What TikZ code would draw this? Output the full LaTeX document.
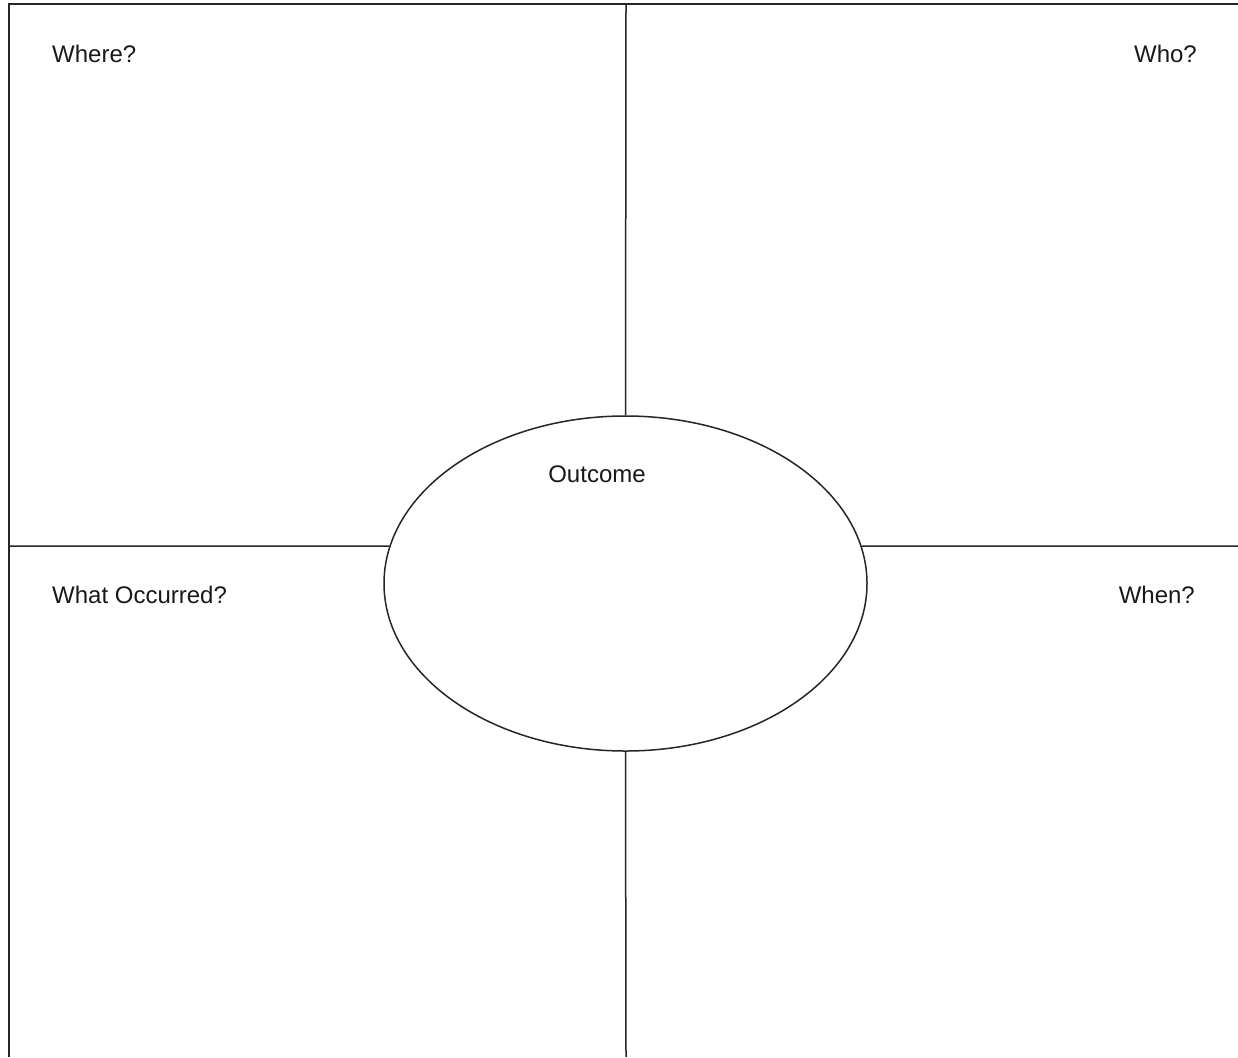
\documentclass[tikz,border=0pt]{standalone}
\usepackage{fontspec}
\setmainfont{Liberation Sans}
\usetikzlibrary{shapes.geometric}
\begin{document}
\begin{tikzpicture}[x=1pt,y=-1pt,
  rule/.style={line width=1.5pt,draw=black!85},
  lbl/.style={inner sep=0pt,font=\fontsize{24}{28}\selectfont,text=black!90}]
\useasboundingbox[fill=white] (0,0) rectangle (1238,1057);
\coordinate (tl) at (9,4);
\coordinate (tr) at (1238,4);
\coordinate (bl) at (9,1057);
\coordinate (vt) at (626,4);
\coordinate (vb) at (626,1057);
\coordinate (hl) at (9,546);
\coordinate (hr) at (1238,546);
\node[ellipse,rule,minimum width=483pt,minimum height=335pt,inner sep=0pt] (out) at (625.5,583.5) {};
\draw[rule] (bl) -- (tl) -- (tr);
\draw[rule] (vt) -- (out.north);
\draw[rule] (out.south) -- (vb);
\draw[rule] (hl) -- (out.171);
\draw[rule] (out.9) -- (hr);
\node[lbl,anchor=west] (where) at (52,54) {Where?};
\node[lbl,anchor=east] (who) at (1197,54) {Who?};
\node[lbl,anchor=west] (what) at (52,595) {What Occurred?};
\node[lbl,anchor=east] (when) at (1195,595) {When?};
\node[lbl] (outcome) at (597,474) {Outcome};
\end{tikzpicture}
\end{document}
